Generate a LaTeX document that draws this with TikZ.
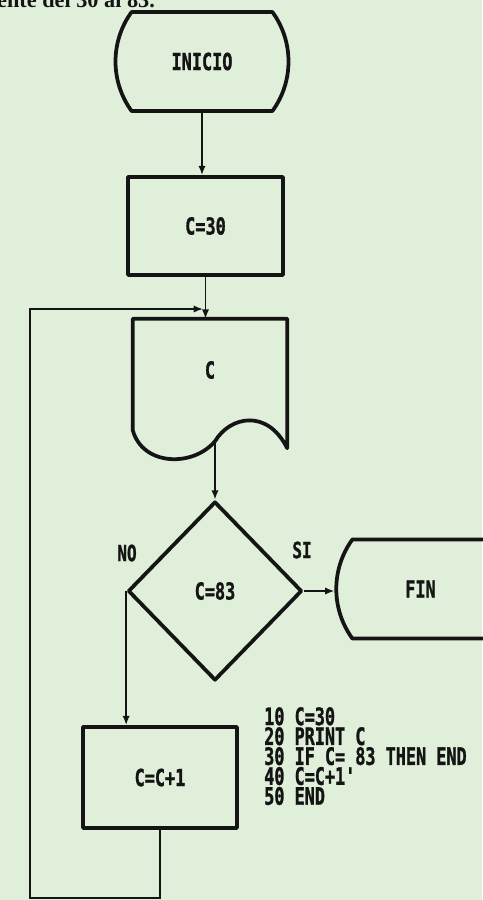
\documentclass[tikz,border=0pt]{standalone}
\usepackage{fontspec}
\usepackage{tikz}
\usetikzlibrary{positioning,arrows.meta,shapes.geometric,shapes.misc,calc}
\newfontfamily\policeEcran{DejaVu Sans Mono Bold}[FakeStretch=0.72, FakeBold=1.2]
\newfontfamily\policeListe{DejaVu Sans Mono Bold}[FakeStretch=0.70, FakeBold=1.2]
\newfontfamily\policeLivre{Liberation Serif}
\definecolor{fondPapier}{HTML}{E0EFD9}
\definecolor{encre}{HTML}{141414}
\tikzset{
  contour/.style={draw=encre, line width=3.2pt, line join=round},
  bloc/.style={
    rectangle, contour, inner sep=0pt, text=encre,
    font=\policeEcran\fontsize{20}{20}\selectfont},
  terminal/.style={
    rounded rectangle, rounded rectangle arc length=72, contour,
    inner sep=0pt, minimum height=29.7mm, text=encre,
    font=\policeEcran\fontsize{20}{20}\selectfont},
  papier/.style={
    rectangle, inner sep=0pt, text=encre,
    font=\policeEcran\fontsize{20}{20}\selectfont},
  decision/.style={
    diamond, contour, inner sep=0pt, text=encre,
    minimum width=52.2mm, minimum height=53.7mm,
    font=\policeEcran\fontsize{20}{20}\selectfont},
  fleche/.style={-{Latex[length=2.8mm,width=2.2mm]}, draw=encre, line width=1.5pt},
  etiquette/.style={text=encre, inner sep=0pt,
    font=\policeEcran\fontsize{19}{19}\selectfont},
  listing/.style={text=encre, align=left, inner sep=0pt,
    font=\policeListe\fontsize{20.5}{17}\selectfont},
  titre/.style={text=encre, inner sep=0pt,
    font=\policeLivre\bfseries\fontsize{19}{19}\selectfont}
}
\begin{document}
\begin{tikzpicture}[x=0.3mm, y=0.3mm]

  \useasboundingbox[fill=fondPapier] (0,0) rectangle (482,-900);

  % --- texte coupe en haut de la page
  \node[titre, anchor=base west] (T) at (-3,-7) {ente del 30 al 83.};

  % --- colonne principale
  \node[terminal, minimum width=51.9mm] (I) at (202,-61.5) {INICIO};
  \node[bloc, minimum width=46.5mm, minimum height=29.4mm] (A) at (205.5,-226) {C=30};
  \node[papier, minimum width=46.2mm, minimum height=30.6mm] (D) at (210,-370) {C};
  \node[decision] (Q) at (215,-591) {C=83};
  \node[terminal, minimum width=38.1mm] (F) at (420.5,-589) {FIN};
  \node[bloc, minimum width=46.2mm, minimum height=30.3mm] (B) at (160,-777.5) {C=C+1};

  % --- document (bord ondule)
  \coordinate (Dgauche) at ($(D.south west)+(0,-9)$);
  \coordinate (Ddroite) at ($(D.south east)+(0,-27)$);
  \coordinate (Dbas)    at ($(D.south)+(5,-20)$);
  \draw[contour] (Dgauche) -- (D.north west) -- (D.north east) -- (Ddroite)
        .. controls +(-20,40) and +(15,25) .. (Dbas)
        .. controls +(-22,-26) and +(10,-36) .. (Dgauche) -- cycle;

  % --- etiquettes de la decision
  \node[etiquette] (non) at (127,-553) {NO};
  \node[etiquette] (oui) at (302,-550) {SI};

  % --- programme
  \node[listing, anchor=north west] (P) at (264,-707)
    {10 C=30\\20 PRINT C\\30 IF C= 83 THEN END\\40 C=C+1'\\50 END};

  % --- fleches
  \draw[fleche] (I.south) -- (I.south |- A.north);
  \draw[fleche] (A.south) -- (A.south |- D.north);
  \draw[fleche] (Dbas) -- (Dbas |- Q.north);
  \draw[fleche] (Q.east) -- (Q.east -| F.west);
  \draw[fleche] (Q.west) -- (Q.west |- B.north);

  % --- boucle de retour
  \coordinate (coinBas)  at (30,-898);
  \coordinate (coinHaut) at (30,-309);
  \coordinate (jonction) at (203,-309);
  \draw[fleche] (B.south) |- (coinBas) -- (coinHaut) -- (jonction);

\end{tikzpicture}
\end{document}
